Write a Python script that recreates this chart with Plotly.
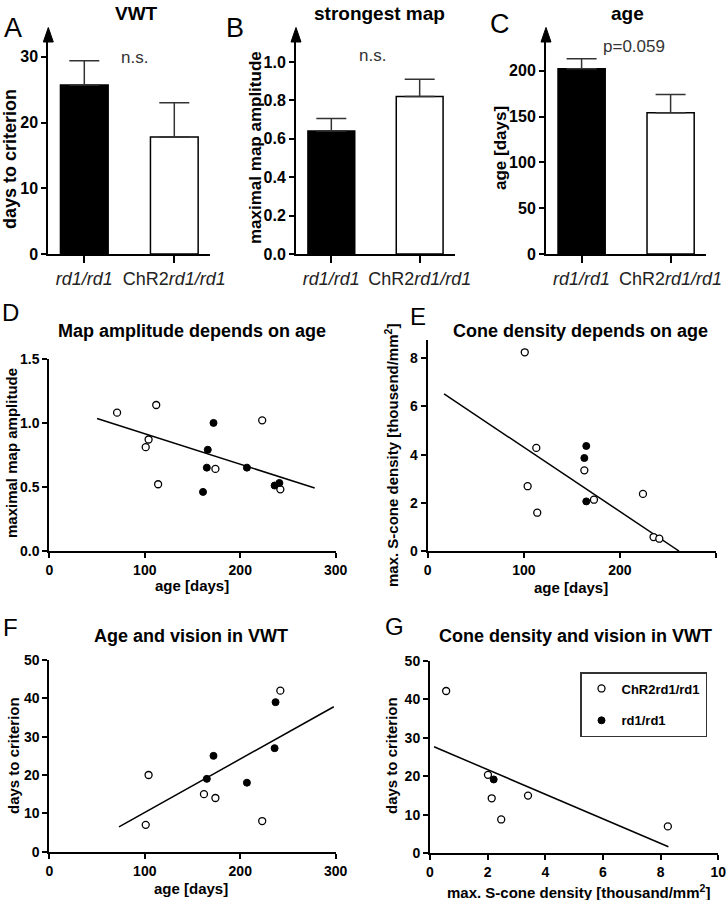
import plotly.graph_objects as go

W, H = 727, 900
FONT = "Liberation Sans, Arial, sans-serif"

# ---- top row: group means +/- SEM ----
groups = ["rd1/rd1", "ChR2rd1/rd1"]
group_ticktext = ["<i>rd1/rd1</i>", "ChR2<i>rd1/rd1</i>"]
bar_colors = ["black", "white"]

vwt_days_mean = [25.7, 17.8]
vwt_days_sem = [3.7, 5.2]
map_amp_mean = [0.64, 0.82]
map_amp_sem = [0.065, 0.09]
age_mean = [202, 154]
age_sem = [11, 20]

# ---- D: map amplitude vs age ----
d_age_chr2 = [71, 112, 104, 101, 114, 174, 223, 242]
d_amp_chr2 = [1.08, 1.14, 0.87, 0.81, 0.52, 0.64, 1.02, 0.48]
d_age_rd1 = [172, 166, 165, 161, 207, 241, 236]
d_amp_rd1 = [1.00, 0.79, 0.65, 0.46, 0.65, 0.53, 0.51]
d_fit_x = [50, 278]
d_fit_y = [1.035, 0.49]

# ---- E: S-cone density vs age ----
e_age_chr2 = [101, 113, 104, 114, 163, 173, 224, 235, 241]
e_dens_chr2 = [8.25, 4.28, 2.69, 1.59, 3.35, 2.13, 2.37, 0.58, 0.51]
e_age_rd1 = [165, 163, 165]
e_dens_rd1 = [4.36, 3.86, 2.06]
e_fit_x = [17, 261.5]
e_fit_y = [6.52, 0.0]

# ---- F: days to criterion vs age ----
f_age_chr2 = [101, 104, 162, 174, 223, 242]
f_days_chr2 = [7, 20, 15, 14, 8, 42]
f_age_rd1 = [165, 172, 207, 237, 236]
f_days_rd1 = [19, 25, 18, 39, 27]
f_fit_x = [73, 298]
f_fit_y = [6.5, 37.8]

# ---- G: days to criterion vs S-cone density ----
g_dens_chr2 = [0.56, 2.01, 2.14, 2.47, 3.40, 8.25]
g_days_chr2 = [42.2, 20.4, 14.3, 8.8, 15.0, 7.0]
g_dens_rd1 = [2.21]
g_days_rd1 = [19.2]
g_fit_x = [0.14, 8.27]
g_fit_y = [27.7, 1.7]


def xd(a, b):
    return [a / W, b / W]


def yd(top, bottom):
    return [1 - bottom / H, 1 - top / H]


fig = go.Figure()

# bar panels
bar_sets = [
    (1, vwt_days_mean, vwt_days_sem),
    (2, map_amp_mean, map_amp_sem),
    (3, age_mean, age_sem),
]
for n, mean, sem in bar_sets:
    fig.add_trace(go.Bar(
        x=groups, y=mean, width=0.53,
        marker=dict(color=bar_colors, line=dict(color="black", width=1.5)),
        error_y=dict(type="data", array=sem, arrayminus=[0, 0], symmetric=False,
                     color="#333", thickness=1.5, width=15),
        xaxis=f"x{n}", yaxis=f"y{n}", showlegend=False,
    ))

open_marker = dict(symbol="circle", size=7, color="white", line=dict(color="black", width=1.3))
fill_marker = dict(symbol="circle", size=7, color="black", line=dict(color="black", width=1))

scatter_sets = [
    (4, d_age_chr2, d_amp_chr2, d_age_rd1, d_amp_rd1, d_fit_x, d_fit_y),
    (5, e_age_chr2, e_dens_chr2, e_age_rd1, e_dens_rd1, e_fit_x, e_fit_y),
    (6, f_age_chr2, f_days_chr2, f_age_rd1, f_days_rd1, f_fit_x, f_fit_y),
    (7, g_dens_chr2, g_days_chr2, g_dens_rd1, g_days_rd1, g_fit_x, g_fit_y),
]
for n, xo, yo, xf, yf, fx, fy in scatter_sets:
    fig.add_trace(go.Scatter(x=fx, y=fy, mode="lines", line=dict(color="black", width=1.5),
                             xaxis=f"x{n}", yaxis=f"y{n}", showlegend=False))
    fig.add_trace(go.Scatter(x=xo, y=yo, mode="markers", marker=open_marker,
                             name="ChR2rd1/rd1", legendgroup="chr2",
                             xaxis=f"x{n}", yaxis=f"y{n}", showlegend=(n == 7)))
    fig.add_trace(go.Scatter(x=xf, y=yf, mode="markers", marker=fill_marker,
                             name="rd1/rd1", legendgroup="rd1",
                             xaxis=f"x{n}", yaxis=f"y{n}", showlegend=(n == 7)))


def axis(dom, rng, anchor, size, **kw):
    d = dict(domain=dom, range=rng, anchor=anchor, showline=True, linecolor="black",
             linewidth=2, ticks="outside", ticklen=5, tickwidth=2, tickcolor="black",
             showgrid=False, zeroline=False, fixedrange=True,
             tickfont=dict(family=FONT, size=size, color="black", weight="bold"))
    d.update(kw)
    return d


cat_kw = dict(type="category", tickvals=groups, ticktext=group_ticktext, ticklen=7,
              tickfont=dict(family=FONT, size=18, color="#222"))

layout_axes = {
    "xaxis": axis(xd(48.3, 210.3), [-0.4, 1.4], "y", 16, **cat_kw),
    "yaxis": axis(yd(41, 254), [0, 32.4], "x", 16, tickvals=[0, 10, 20, 30]),
    "xaxis2": axis(xd(296, 455), [-0.4, 1.4], "y2", 16, **cat_kw),
    "yaxis2": axis(yd(41, 254), [0, 1.109], "x2", 16, tickvals=[0, 0.2, 0.4, 0.6, 0.8, 1.0],
                   tickformat=".1f"),
    "xaxis3": axis(xd(546, 706.2), [-0.4, 1.4], "y3", 16, **cat_kw),
    "yaxis3": axis(yd(41, 254), [0, 232.4], "x3", 16, tickvals=[0, 50, 100, 150, 200]),
    "xaxis4": axis(xd(49.3, 335.7), [0, 300], "y4", 14, tickvals=[0, 100, 200, 300]),
    "yaxis4": axis(yd(359, 550.7), [0, 1.5], "x4", 14, tickvals=[0, 0.5, 1.0, 1.5],
                   tickformat=".1f"),
    "xaxis5": axis(xd(427.7, 716), [0, 300], "y5", 14, tickvals=[0, 100, 200, 300]),
    "yaxis5": axis(yd(340, 551), [0, 8.76], "x5", 14, tickvals=[0, 2, 4, 6, 8]),
    "xaxis6": axis(xd(49.3, 335.7), [0, 300], "y6", 14, tickvals=[0, 100, 200, 300]),
    "yaxis6": axis(yd(660, 851.7), [0, 50], "x6", 14, tickvals=[0, 10, 20, 30, 40, 50]),
    "xaxis7": axis(xd(430, 718.3), [0, 10], "y7", 14, tickvals=[0, 2, 4, 6, 8, 10]),
    "yaxis7": axis(yd(661, 853.3), [0, 50], "x7", 14, tickvals=[0, 10, 20, 30, 40, 50]),
}

anns = []


def label(text, x, y, size, bold=True, angle=0, color="black"):
    anns.append(dict(text=text, x=x / W, y=1 - y / H, xref="paper", yref="paper",
                     xanchor="center", yanchor="middle", showarrow=False, textangle=angle,
                     font=dict(family=FONT, size=size, color=color,
                               weight="bold" if bold else "normal")))


# panel letters
for t, x, y, s in [("A", 13, 28, 27), ("B", 235, 28, 27), ("C", 500, 24, 27),
                   ("D", 10, 313, 24), ("E", 418, 316, 24), ("F", 10, 627, 24),
                   ("G", 394, 626, 24)]:
    label(t, x, y, s, bold=False)

# panel titles
label("VWT", 136, 13, 19)
label("strongest map", 379, 13, 19)
label("age", 627, 13, 19)
label("Map amplitude depends on age", 192, 331, 18)
label("Cone density depends on age", 580, 331, 18)
label("Age and vision in VWT", 191, 636, 18)
label("Cone density and vision in VWT", 575, 636, 18)

# significance notes
label("n.s.", 134, 57, 17, bold=False, color="#333")
label("n.s.", 373, 55, 17, bold=False, color="#333")
label("p=0.059", 634, 46, 17, bold=False, color="#333")

# axis titles
label("days to criterion", 10, 159, 18, angle=-90)
label("maximal map amplitude", 256, 148, 17, angle=-90)
label("age [days]", 501, 148, 17, angle=-90)
label("age [days]", 192, 585, 15)
label("maximal map amplitude", 12, 453, 15, angle=-90)
label("age [days]", 571, 587, 15)
label("max. S-cone density [thousend/mm<sup>2</sup>]", 391, 456, 15, angle=-90)
label("age [days]", 191, 888, 15)
label("days to criterion", 13, 756, 15, angle=-90)
label("max. S-cone density [thousand/mm<sup>2</sup>]", 578, 891, 15)
label("days to criterion", 391, 756, 15, angle=-90)

# arrowheads on the top-row y axes
shapes = []
for ax_px in [48.3, 296, 546]:
    x0, x1, xm = (ax_px - 5) / W, (ax_px + 5) / W, ax_px / W
    yb, yt = 1 - 42 / H, 1 - 27.5 / H
    shapes.append(dict(type="path", xref="paper", yref="paper",
                       path=f"M {x0},{yb} L {xm},{yt} L {x1},{yb} Z",
                       fillcolor="black", line=dict(color="black", width=1)))

fig.update_layout(
    width=W, height=H, margin=dict(l=0, r=0, t=0, b=0),
    template="none", paper_bgcolor="white", plot_bgcolor="white",
    font=dict(family=FONT, color="black"),
    annotations=anns, shapes=shapes, bargap=0.2,
    legend=dict(x=580 / W, y=1 - 672 / H, xanchor="left", yanchor="top",
                bgcolor="white", bordercolor="#333", borderwidth=1.5,
                font=dict(family=FONT, size=13, weight="bold"),
                tracegroupgap=12, itemwidth=30),
    **layout_axes,
)

# the page body has a default 8px margin; drop it so the figure sits at the origin
fig.write_html("out.html", config={"displayModeBar": False},
               post_script="document.body.style.margin='0';")
